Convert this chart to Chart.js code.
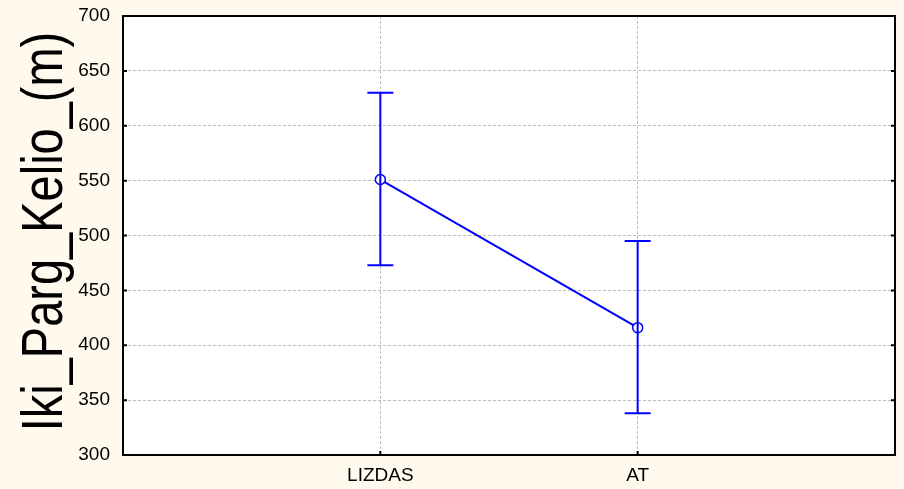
<!DOCTYPE html>
<html>
<head>
<meta charset="utf-8">
<script src="https://cdn.jsdelivr.net/npm/chart.js@4/dist/chart.umd.min.js"></script>
<style>
  html, body { margin: 0; padding: 0; background: #FFF9EE; }
  #wrap { width: 904px; height: 489px; }
</style>
</head>
<body>
<div id="wrap"><canvas id="meanPlot"></canvas></div>
<script>
// ------------------------------
// DATA
// ------------------------------
const categories = ['LIZDAS', 'AT'];
const means = [551, 416];
const lowerCI = [473, 338];
const upperCI = [630, 495];
const yMin = 300;
const yMax = 700;
const yStep = 50;
const yTitle = 'Iki_Parg_Kelio_(m)';

// category i sits at x = i + 1 on a 0..3 axis
const points = means.map((v, i) => ({ x: i + 1, y: v }));

// white plot area, black frame, inward ticks, error bars, tall y title
const frameAndBars = {
  id: 'frameAndBars',
  beforeDraw(chart) {
    const a = chart.chartArea, c = chart.ctx;
    c.save();
    c.fillStyle = '#ffffff';
    c.fillRect(a.left, a.top, a.right - a.left, a.bottom - a.top);
    c.restore();
  },
  afterDatasetsDraw(chart) {
    const c = chart.ctx, xs = chart.scales.x, ys = chart.scales.y;
    c.save();
    c.strokeStyle = '#0000FF';
    c.lineWidth = 2;
    categories.forEach((cat, i) => {
      const px = xs.getPixelForValue(i + 1);
      const yLo = ys.getPixelForValue(lowerCI[i]);
      const yHi = ys.getPixelForValue(upperCI[i]);
      c.beginPath();
      c.moveTo(px, yLo); c.lineTo(px, yHi);
      c.moveTo(px - 13, yHi); c.lineTo(px + 13, yHi);
      c.moveTo(px - 13, yLo); c.lineTo(px + 13, yLo);
      c.stroke();
    });
    c.restore();
  },
  afterDraw(chart) {
    const a = chart.chartArea, c = chart.ctx, xs = chart.scales.x, ys = chart.scales.y;
    c.save();
    c.strokeStyle = '#000000';
    c.lineWidth = 2;
    c.beginPath();
    for (let v = yMin; v <= yMax; v += yStep) {
      const py = ys.getPixelForValue(v);
      c.moveTo(a.left, py); c.lineTo(a.left + 4, py);
      c.moveTo(a.right, py); c.lineTo(a.right - 4, py);
    }
    categories.forEach((cat, i) => {
      const px = xs.getPixelForValue(i + 1);
      c.moveTo(px, a.bottom); c.lineTo(px, a.bottom - 4);
    });
    c.stroke();
    c.strokeRect(a.left, a.top, a.right - a.left, a.bottom - a.top);

    // y axis title: large, slightly condensed like the original
    c.translate(62, (a.top + a.bottom) / 2 - 4);
    c.rotate(-Math.PI / 2);
    c.scale(0.81, 1);
    c.fillStyle = '#000000';
    c.font = '58px Arial, "Liberation Sans"';
    c.textAlign = 'center';
    c.textBaseline = 'alphabetic';
    c.fillText(yTitle, 0, 0);
    c.restore();
  }
};

const ctx = document.getElementById('meanPlot').getContext('2d');
new Chart(ctx, {
  type: 'line',
  data: {
    datasets: [{
      data: points,
      borderColor: '#0000FF',
      borderWidth: 2,
      tension: 0,
      pointRadius: 5,
      pointBorderWidth: 1.5,
      pointBackgroundColor: '#ffffff',
      pointBorderColor: '#0000FF'
    }]
  },
  options: {
    responsive: true,
    maintainAspectRatio: false,
    animation: false,
    layout: { padding: { top: 16, right: 9, left: 0, bottom: 0 } },
    plugins: {
      legend: { display: false },
      tooltip: { enabled: false }
    },
    scales: {
      x: {
        type: 'linear',
        min: 0,
        max: categories.length + 1,
        afterBuildTicks(scale) {
          scale.ticks = categories.map((c, i) => ({ value: i + 1 }));
        },
        afterFit(scale) {
          scale.height = 34;
          scale.paddingLeft = 0;
          scale.paddingRight = 0;
        },
        ticks: {
          callback: (v) => categories[v - 1] || '',
          color: '#000000',
          font: { family: 'Arial, "Liberation Sans"', size: 19 },
          padding: 9,
          maxRotation: 0
        },
        grid: {
          color: '#bdbdbd',
          lineWidth: 1,
          drawTicks: false
        },
        border: { display: false, dash: [3, 2] }
      },
      y: {
        min: yMin,
        max: yMax,
        ticks: {
          stepSize: yStep,
          color: '#000000',
          font: { family: 'Arial, "Liberation Sans"', size: 19 },
          padding: 13
        },
        afterFit(scale) {
          scale.width = 123;
          scale.paddingTop = 0;
          scale.paddingBottom = 0;
        },
        grid: {
          color: '#bdbdbd',
          lineWidth: 1,
          drawTicks: false
        },
        border: { display: false, dash: [3, 2] }
      }
    }
  },
  plugins: [frameAndBars]
});
</script>
</body>
</html>
